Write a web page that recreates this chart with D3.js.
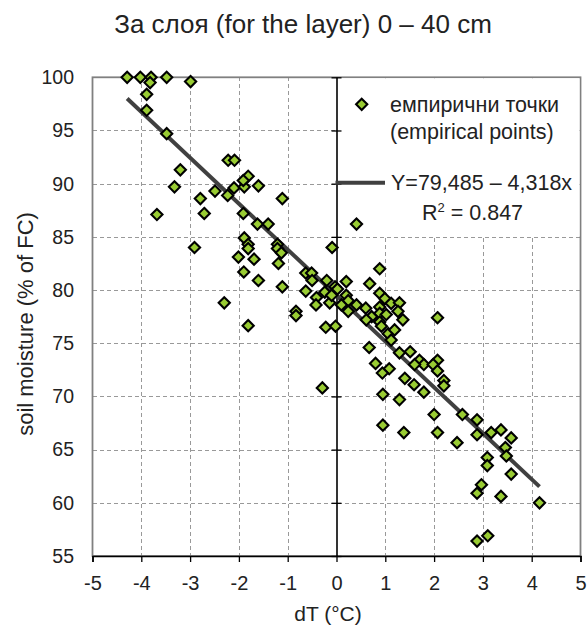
<!DOCTYPE html>
<html>
<head>
<meta charset="utf-8">
<script src="https://cdn.jsdelivr.net/npm/d3@7"></script>
<style>
  html, body { margin: 0; padding: 0; background: #fff; }
  text { font-family: "Liberation Sans", Arial, sans-serif; fill: #222; }
</style>
</head>
<body>
<svg id="chart" width="587" height="627"></svg>
<script>
// ---- data ----
const dT = [
  -4.29, -4.02, -3.80, -3.82, -3.48, -2.99, -3.89, -3.89, -3.48, -2.22,
  -2.09, -3.20, -3.32, -3.68, -2.79, -2.71, -2.49, -2.23, -2.10, -1.89,
  -1.81, -1.91, -1.60, -1.11, -1.91, -1.62, -1.40, -2.91, -1.89, -1.81,
  -1.81, -2.01, -1.69, -1.90, -1.60, -1.21, -1.21, -1.13, -1.19, -1.11,
  -0.09, -2.30, -0.63, -0.51, -0.50, -0.20, -0.63, -0.41, -0.24, -0.03,
  -0.42, -0.14, -1.81, -0.83, -0.83, -0.22, -0.02, -0.29,
  0.885, 0.41, 0.20, 0.68, -0.10, 0.20, 0.24, 0.10, 0.24, 0.41,
  0.60, 0.885, 0.99, 0.885, 1.12, 1.29, 1.26, 0.885, 0.72, 0.61,
  1.02, 1.36, 0.885, 0.92, 1.06, 1.19, 0.67, 0.80, 1.08, 0.94,
  1.12, 1.51, 1.40, 1.70, 0.95, 1.29, 0.95, 1.38, 1.59, 1.79,
  2.00, 2.07, 2.47, 2.07, 1.79, 1.60, 1.29, 2.07, 1.98, 2.07,
  2.20, 2.20, 2.58, 2.88, 2.88, 3.17, 3.37, 3.58, 3.46, 3.48,
  3.09, 3.09, 3.58, 2.97, 2.88, 3.37, 4.16, 2.88, 3.10, 0.02
];
const moisture = [
  100, 100, 100, 99.5, 100, 99.6, 98.4, 96.9, 94.7, 92.2,
  92.2, 91.3, 89.7, 87.1, 88.6, 87.2, 89.3, 88.9, 89.6, 89.7,
  90.7, 90.3, 89.8, 88.6, 87.2, 86.2, 86.2, 84.0, 84.9, 84.3,
  83.9, 83.1, 82.9, 81.7, 80.9, 84.3, 83.9, 83.5, 82.5, 80.3,
  84.0, 78.8, 81.6, 81.6, 80.9, 80.9, 79.9, 79.3, 79.8, 80.3,
  78.6, 78.8, 76.65, 78.0, 77.6, 76.5, 76.6, 70.8,
  82.0, 86.2, 80.8, 80.6, 79.5, 79.5, 79.0, 78.6, 78.0, 78.6,
  78.3, 79.7, 79.2, 78.4, 78.75, 78.8, 78.0, 77.8, 77.5, 77.2,
  77.7, 77.2, 77.0, 76.6, 75.9, 76.25, 74.6, 73.1, 72.6, 72.2,
  75.3, 74.2, 71.7, 73.4, 70.2, 69.7, 67.3, 66.6, 71.1, 70.4,
  68.3, 66.6, 65.65, 77.4, 73.0, 73.0, 74.1, 73.4, 73.0, 72.4,
  71.5, 71.0, 68.3, 67.8, 66.4, 66.6, 66.85, 66.1, 65.2, 64.4,
  64.25, 63.5, 62.7, 61.7, 60.9, 60.6, 60.0, 56.4, 56.9, 80.1
];
const xTicks = [-5, -4, -3, -2, -1, 0, 1, 2, 3, 4, 5];
const yTicks = [55, 60, 65, 70, 75, 80, 85, 90, 95, 100];
const trendIntercept = 79.485;
const trendSlope = -4.318;
const trendRange = [-4.29, 4.16];
const titleText = "За слоя (for the layer) 0 – 40 cm";
const xLabel = "dT (°C)";
const yLabel = "soil moisture (% of FC)";
const legendPoints = ["емпирични точки", "(empirical points)"];
const legendLine = "Y=79,485 – 4,318x";
const legendR2 = "0.847";

// ---- layout ----
const L = 92.5, R = 580.5, T = 77.3, B = 556;
const svg = d3.select("#chart");
const x = d3.scaleLinear().domain([-5, 5]).range([L, R]);
const y = d3.scaleLinear().domain([55, 100]).range([B, T]);

svg.append("rect").attr("width", 587).attr("height", 627).attr("fill", "#fff");

// gridlines
const grid = svg.append("g").attr("stroke", "#999").attr("stroke-width", 1)
  .attr("stroke-dasharray", "4,3").attr("shape-rendering", "crispEdges");
grid.selectAll("line.h").data(yTicks.filter(v => v > 55 && v < 100)).join("line")
  .attr("x1", L).attr("x2", R).attr("y1", d => Math.round(y(d)) + 0.5).attr("y2", d => Math.round(y(d)) + 0.5);
grid.selectAll("line.v").data(xTicks.filter(v => v > -5 && v < 5 && v !== 0)).join("line")
  .attr("y1", T).attr("y2", B).attr("x1", d => Math.round(x(d)) + 0.5).attr("x2", d => Math.round(x(d)) + 0.5);

// plot border
svg.append("rect").attr("x", L).attr("y", T).attr("width", R - L).attr("height", B - T)
  .attr("fill", "none").attr("stroke", "#808080").attr("stroke-width", 1.8);

// legend background (under points)
svg.append("rect").attr("x", x(0) + 1.5).attr("y", T + 1).attr("width", R - x(0) - 2.5).attr("height", 158)
  .attr("fill", "#fff");

// bottom axis
const xAxis = d3.axisBottom(x).tickValues(xTicks).tickSize(6).tickPadding(14)
  .tickFormat(d => d < 0 ? "-" + Math.abs(d) : String(d));
const gx = svg.append("g").attr("transform", `translate(0,${B})`).call(xAxis);
gx.select(".domain").attr("stroke", "#000").attr("stroke-width", 1.6);
gx.selectAll(".tick line").attr("stroke", "#000").attr("stroke-width", 1.3);
gx.selectAll(".tick text").attr("font-size", 20).attr("fill", "#222")
  .attr("font-family", "Liberation Sans, Arial, sans-serif");

// vertical axis at x = 0 (cross ticks), labels on the left side
const yAxis = d3.axisLeft(y).tickValues(yTicks).tickSize(0).tickFormat("");
const gy = svg.append("g").attr("transform", `translate(${x(0)},0)`).call(yAxis);
gy.select(".domain").attr("stroke", "#000").attr("stroke-width", 1.6);
gy.selectAll(".tick").append("line").attr("x1", -5).attr("x2", 5)
  .attr("stroke", "#000").attr("stroke-width", 1.3);

svg.append("g").selectAll("text").data(yTicks).join("text")
  .attr("x", 74).attr("y", d => y(d)).attr("dy", "0.35em")
  .attr("text-anchor", "end").attr("font-size", 19.5).text(d => d);

// trend line
const line = d3.line().x(d => x(d)).y(d => y(trendIntercept + trendSlope * d));
svg.append("path").datum(trendRange).attr("d", line)
  .attr("fill", "none").attr("stroke", "#404040").attr("stroke-width", 4);

// points
const diamond = r => `M0,${-r}L${r},0L0,${r}L${-r},0Z`;
const pts = dT.map((v, i) => [v, moisture[i]]);
svg.append("g").selectAll("path").data(pts).join("path")
  .attr("transform", d => `translate(${x(d[0])},${y(d[1])})`)
  .attr("d", diamond(5.6))
  .attr("fill", "#99CC33").attr("stroke", "#000").attr("stroke-width", 2.1);

// legend
const lg = svg.append("g");
lg.append("path").attr("transform", "translate(361.7,104.3)").attr("d", diamond(5.6))
  .attr("fill", "#99CC33").attr("stroke", "#000").attr("stroke-width", 2.1);
lg.append("text").attr("x", 390).attr("y", 111.5).attr("font-size", 21.5).text(legendPoints[0]);
lg.append("text").attr("x", 390).attr("y", 139).attr("font-size", 21.5).text(legendPoints[1]);
lg.append("line").attr("x1", x(0) - 1).attr("x2", 385).attr("y1", 182.7).attr("y2", 182.7)
  .attr("stroke", "#404040").attr("stroke-width", 4);
lg.append("text").attr("x", 391).attr("y", 190).attr("font-size", 21.5).text(legendLine);
const r2 = lg.append("text").attr("x", 422).attr("y", 219.5).attr("font-size", 21.5);
r2.append("tspan").text("R");
r2.append("tspan").attr("font-size", 13).attr("dy", -8).text("2");
r2.append("tspan").attr("dy", 8).text(" = " + legendR2);

// titles
svg.append("text").attr("x", 303).attr("y", 33).attr("text-anchor", "middle")
  .attr("font-size", 26).text(titleText);
svg.append("text").attr("x", 328).attr("y", 621).attr("text-anchor", "middle")
  .attr("font-size", 21).text(xLabel);
svg.append("text").attr("transform", "translate(33,324) rotate(-90)").attr("text-anchor", "middle")
  .attr("font-size", 22).text(yLabel);
</script>
</body>
</html>
